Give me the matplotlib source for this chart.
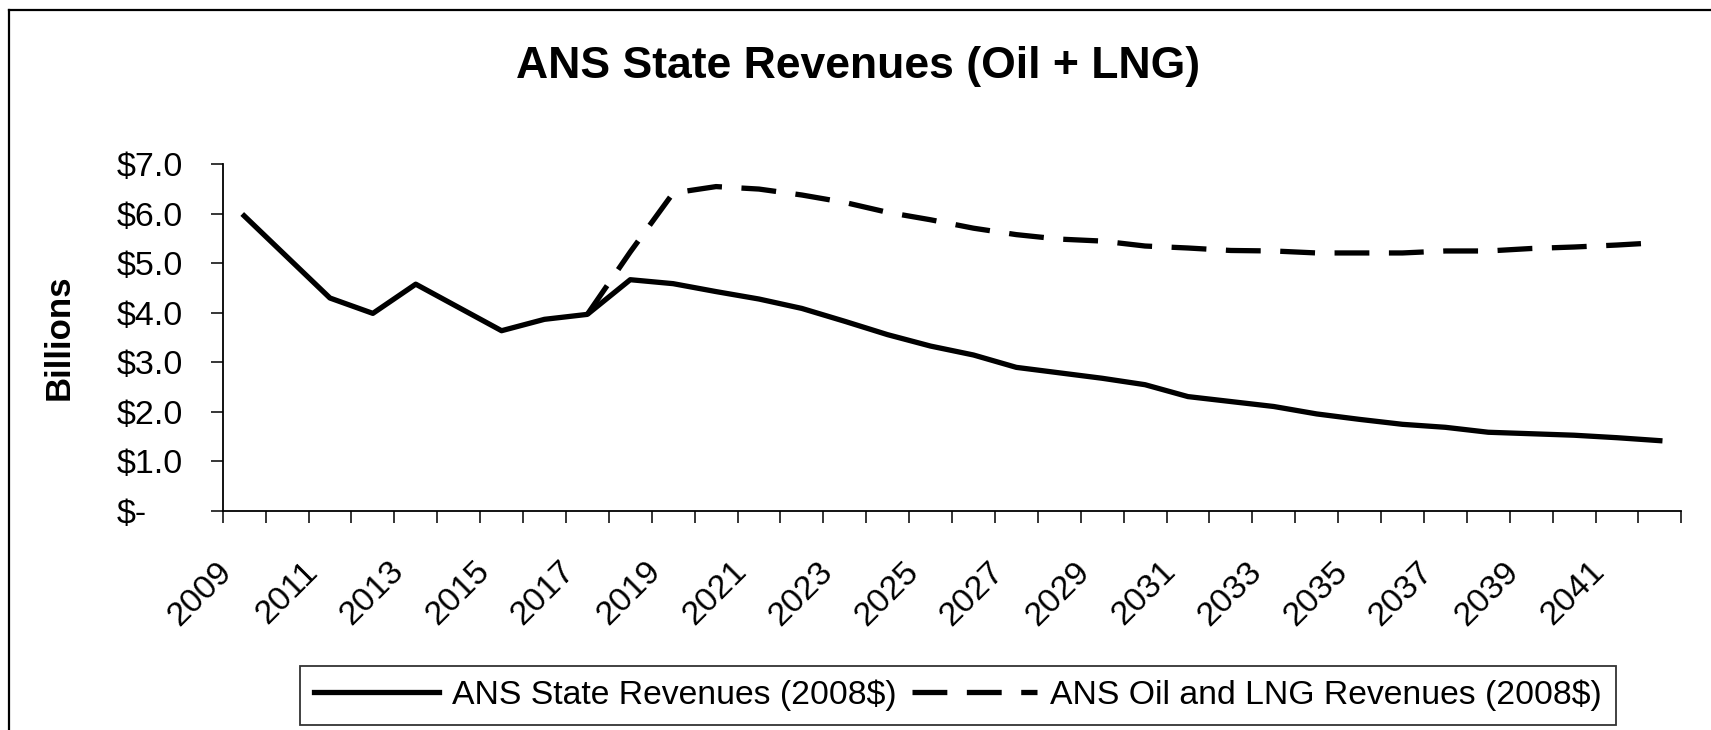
import matplotlib
matplotlib.use("Agg")
import matplotlib.pyplot as plt
from matplotlib.lines import Line2D
from matplotlib.transforms import ScaledTranslation
import numpy as np

plt.rcParams['font.family'] = ['Liberation Sans', 'DejaVu Sans']

years = list(range(2009, 2043))
state_revenues = [5.96, 5.13, 4.30, 3.99, 4.58, 4.11, 3.64, 3.87, 3.97, 4.67,
                  4.59, 4.43, 4.28, 4.09, 3.83, 3.56, 3.33, 3.15, 2.90, 2.79,
                  2.68, 2.55, 2.31, 2.21, 2.11, 1.96, 1.85, 1.75, 1.69, 1.59,
                  1.56, 1.53, 1.48, 1.42]
lng_years = list(range(2017, 2043))
oil_lng_revenues = [3.97, 5.23, 6.42, 6.55, 6.50, 6.38, 6.23, 6.03, 5.88, 5.71,
                    5.58, 5.49, 5.45, 5.35, 5.31, 5.26, 5.25, 5.21, 5.21, 5.21,
                    5.25, 5.25, 5.30, 5.33, 5.37, 5.42]
ytick_vals = [0, 1, 2, 3, 4, 5, 6, 7]
ytick_labels = ['$-', '$1.0', '$2.0', '$3.0', '$4.0', '$5.0', '$6.0', '$7.0']
title = 'ANS State Revenues (Oil + LNG)'
ylabel = 'Billions'
legend_labels = ['ANS State Revenues (2008$)', 'ANS Oil and LNG Revenues (2008$)']

W, H = 1711, 730
fig = plt.figure(figsize=(W / 100, H / 100), dpi=100)
ax_l, ax_r, ax_t, ax_b = 222.7, 1681.3, 164.3, 511.0
ax = fig.add_axes([ax_l / W, 1 - ax_b / H, (ax_r - ax_l) / W, (ax_b - ax_t) / H])

x_state = np.arange(len(years))
x_lng = np.array([years.index(y) for y in lng_years])

lw = 3.8
dash = (6.6, 3.7)
ax.plot(x_lng, oil_lng_revenues, color='black', lw=lw, dashes=dash,
        dash_capstyle='butt', zorder=2, label=legend_labels[1])
ax.plot(x_state, state_revenues, color='black', lw=lw, solid_joinstyle='round',
        zorder=3, label=legend_labels[0])

ax.set_xlim(-0.5, len(years) - 0.5)
ax.set_ylim(0, 7)

# y axis
ax.set_yticks(ytick_vals)
ax.set_yticklabels(ytick_labels)
ax.tick_params(axis='y', direction='out', length=8.6, width=1.1, pad=67.5,
               labelsize=24.5)
for lab in ax.get_yticklabels():
    lab.set_horizontalalignment('left')

# x axis: boundaries as minor ticks, labels at centers
ax.set_xticks(np.arange(-0.5, len(years), 1.0), minor=True)
major_pos = x_state[::2]
ax.set_xticks(major_pos)
ax.set_xticklabels([str(years[i]) for i in major_pos], rotation=45,
                   ha='right', va='baseline', rotation_mode='anchor',
                   fontsize=24.5)
ax.tick_params(axis='x', which='major', length=0, pad=44.5)
ax.tick_params(axis='x', which='minor', direction='out', length=8.6, width=1.1)
offset = ScaledTranslation(-11 / 100, 0, fig.dpi_scale_trans)
for lab in ax.get_xticklabels():
    lab.set_transform(lab.get_transform() + offset)

for s in ['top', 'right']:
    ax.spines[s].set_visible(False)
for s in ['left', 'bottom']:
    ax.spines[s].set_linewidth(1.3)
    ax.spines[s].set_color('black')

fig.text(59 / W, 1 - 337.5 / H, ylabel, rotation=90, ha='center', va='center',
         fontsize=25, fontweight='bold')
fig.text(858 / W, 1 - 78 / H, title, ha='center', va='baseline', fontsize=32,
         fontweight='bold')

h1 = Line2D([], [], color='black', lw=lw)
h2 = Line2D([], [], color='black', lw=lw, dashes=dash, dash_capstyle='butt')
leg = fig.legend([h1, h2], legend_labels, loc='center',
                 bbox_to_anchor=(958 / W, 1 - 695.5 / H), ncol=2, fontsize=24.3,
                 frameon=True, fancybox=False, handlelength=3.7,
                 handletextpad=0.4, columnspacing=0.45, borderpad=0.4,
                 borderaxespad=0)
leg.get_frame().set_edgecolor('black')
leg.get_frame().set_linewidth(1.3)

# outer frame lines (top and left)
fig.add_artist(Line2D([9 / W, 1], [1 - 10 / H, 1 - 10 / H], color='black', lw=1.6,
                      transform=fig.transFigure))
fig.add_artist(Line2D([9 / W, 9 / W], [0, 1 - 10 / H], color='black', lw=1.6,
                      transform=fig.transFigure))

fig.savefig('out.png', dpi=100)
